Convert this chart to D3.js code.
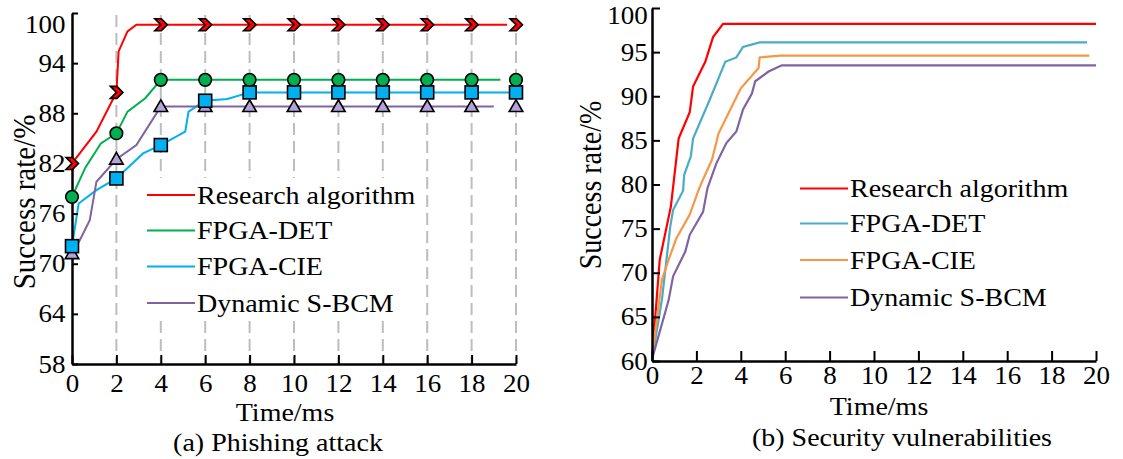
<!DOCTYPE html>
<html><head><meta charset="utf-8">
<script src="https://cdn.jsdelivr.net/npm/d3@7"></script>
<style>
body{margin:0;background:#fff;}
text{font-family:"Liberation Serif","Times New Roman",serif;fill:#000;}
</style></head>
<body><svg id="c" width="1123" height="459"></svg>
<script>
// ---------- data: (a) Phishing attack ----------
const xTicks = [0,2,4,6,8,10,12,14,16,18,20];
const aYTicks = [58,64,70,76,82,88,94,100];
const bYTicks = [60,65,70,75,80,85,90,95,100];
const seriesNames = ["Research algorithm","FPGA-DET","FPGA-CIE","Dynamic S-BCM"];

const aResearch = [[0,82],[1.1,85.8],[2,90.5],[2.1,95.4],[2.5,97.8],[2.9,98.6],[19.6,98.6]];
const aDET = [[0,78],[0.6,81.5],[1.3,84.4],[2,85.6],[2.5,88.2],[3.3,89.8],[4,92],[19.3,92]];
const aCIE = [[0,72.1],[0.3,77.2],[1.1,78.8],[2,80.2],[3.2,83.2],[4,84.2],[5.1,85.8],[5.25,88.2],[6,89.5],[7,89.7],[8,90.5],[20,90.5]];
const aSBCM = [[0,71.2],[0.35,72.8],[0.8,75.2],[1.1,79.8],[2,82.5],[2.9,84.2],[4,88.8],[19,88.8]];
// markers at x = 0,2,...,20
const aResearchMk = [82,90.5,98.6,98.6,98.6,98.6,98.6,98.6,98.6,98.6,98.6];
const aDETMk = [78,85.6,92,92,92,92,92,92,92,92,92];
const aCIEMk = [72.1,80.2,84.2,89.5,90.5,90.5,90.5,90.5,90.5,90.5,90.5];
const aSBCMMk = [71.2,82.5,88.8,88.8,88.8,88.8,88.8,88.8,88.8,88.8,88.8];

// ---------- data: (b) Security vulnerabilities ----------
const bResearch = [[0,60.3],[0.35,71.5],[0.85,77.5],[1.2,85.2],[1.7,88.2],[1.85,91.1],[2.4,93.9],[2.75,96.7],[3.2,98.2],[20,98.2]];
const bDET = [[0,60.2],[0.45,67],[0.82,75.2],[0.95,77.1],[1.4,79.3],[1.45,81.1],[1.75,83.2],[1.85,85.2],[2.6,89.6],[3.3,93.9],[3.8,94.4],[4.1,95.6],[4.85,96.1],[19.6,96.1]];
const bCIE = [[0,60.5],[0.45,69.2],[0.75,71.5],[1.1,73.9],[1.7,76.6],[2.1,79.4],[2.25,80.3],[2.7,82.8],[3,85.8],[3.45,88.1],[4,90.9],[4.8,93.2],[4.85,94.4],[5.8,94.6],[19.7,94.6]];
const bSBCM = [[0,60.2],[0.75,66.9],[0.95,69.6],[1.5,72.4],[1.7,74.3],[2.3,76.9],[2.5,79.6],[2.9,82.4],[3.35,84.7],[3.8,86],[4.1,88.5],[4.5,90.3],[4.65,91.7],[5.25,92.8],[5.85,93.5],[20,93.5]];

const aColors = ["#ff0000","#00b050","#00b0f0","#8064a2"];
const aFills = ["#ff0000","#00b050","#00b0f0","#b4a2dc"];
const bColors = ["#ff0000","#4bacc6","#f79646","#8064a2"];

const SX = 1.12;
const svg = d3.select("#c");

function txt(g, x, y, s, size, anchor, rot){
  g.append("text")
   .attr("transform", `translate(${x},${y}) scale(${SX},1)` + (rot ? ` rotate(${rot})` : ""))
   .attr("text-anchor", anchor || "start")
   .style("font-size", size + "px")
   .text(s);
}

function styleAxis(g){
  g.select(".domain").attr("stroke","#000").attr("stroke-width",2.5);
  g.selectAll(".tick line").attr("stroke","#000").attr("stroke-width",2);
  g.selectAll(".tick text").style("font-size","25px").attr("fill","#000")
    .attr("font-family",'"Liberation Serif", serif');
}

// ================= Panel (a) =================
{
  const x = d3.scaleLinear().domain([0,20]).range([72,516]);
  const y = d3.scaleLinear().domain([58,100]).range([364,13]);
  const g = svg.append("g");

  // dashed gridlines
  g.selectAll("line.grid").data(xTicks.filter(d=>d>0)).enter().append("line")
    .attr("x1",d=>x(d)).attr("x2",d=>x(d)).attr("y1",15).attr("y2",y(58))
    .attr("stroke","#bdbdbd").attr("stroke-width",2).attr("stroke-dasharray","12,6");

  // legend background (covers grid)
  g.append("rect").attr("x",145).attr("y",178).attr("width",262).attr("height",142).attr("fill","#fff");

  const line = d3.line().x(d=>x(d[0])).y(d=>y(d[1]));
  [aResearch,aDET,aCIE,aSBCM].forEach((s,i)=>{
    g.append("path").datum(s).attr("d",line).attr("fill","none")
      .attr("stroke",aColors[i]).attr("stroke-width",2);
  });

  // axes
  const ya = g.append("g").attr("transform",`translate(${x(0)},0)`)
    .call(d3.axisLeft(y).tickValues(aYTicks).tickSizeInner(-6).tickSizeOuter(0).tickPadding(6));
  styleAxis(ya);
  ya.selectAll(".tick text").attr("transform",d=>d===100?`translate(0,11) scale(1.08,1)`:`scale(1.08,1)`);
  const xa = g.append("g").attr("transform",`translate(0,${y(58)})`)
    .call(d3.axisBottom(x).tickValues(xTicks).tickSizeInner(-9).tickSizeOuter(0).tickPadding(10));
  styleAxis(xa);
  xa.selectAll(".tick text").attr("transform",`scale(1.08,1)`);

  // markers
  const mk = [aResearchMk,aDETMk,aCIEMk,aSBCMMk];
  const chevron = "M-6,-6 L0.5,-6 L6.5,0 L0.5,6 L-6,6 L0,0 Z";
  xTicks.forEach((t,j)=>{
    const tri = d3.symbol().type(d3.symbolTriangle).size(80);
    g.append("path").attr("d",tri()).attr("transform",`translate(${x(t)},${y(mk[3][j])+1})`)
      .attr("fill",aFills[3]).attr("stroke","#000").attr("stroke-width",1.6);
    g.append("rect").attr("x",x(t)-6.5).attr("y",y(mk[2][j])-6.5).attr("width",13).attr("height",13)
      .attr("fill",aFills[2]).attr("stroke","#000").attr("stroke-width",1.6);
    g.append("circle").attr("cx",x(t)).attr("cy",y(mk[1][j])).attr("r",6.3)
      .attr("fill",aFills[1]).attr("stroke","#000").attr("stroke-width",1.6);
    g.append("path").attr("d",chevron).attr("transform",`translate(${x(t)},${y(mk[0][j])})`)
      .attr("fill",aFills[0]).attr("stroke","#000").attr("stroke-width",1.6);
  });

  // legend
  const ly = [195,230.5,266.5,303];
  seriesNames.forEach((n,i)=>{
    g.append("line").attr("x1",147).attr("x2",195).attr("y1",ly[i]).attr("y2",ly[i])
      .attr("stroke",aColors[i]).attr("stroke-width",2);
    txt(g,197,ly[i]+8.5,n,25,"start");
  });

  txt(g,285,421,"Time/ms",25,"middle");
  txt(g,278,451,"(a) Phishing attack",25,"middle");
  txt(g,35,202,"Success rate/%",29,"middle",-90);
}

// ================= Panel (b) =================
{
  const x = d3.scaleLinear().domain([0,20]).range([652,1096]);
  const y = d3.scaleLinear().domain([60,100]).range([361,8]);
  const g = svg.append("g");

  const line = d3.line().x(d=>x(d[0])).y(d=>y(d[1]));
  [bResearch,bDET,bCIE,bSBCM].forEach((s,i)=>{
    g.append("path").datum(s).attr("d",line).attr("fill","none")
      .attr("stroke",bColors[i]).attr("stroke-width",2.2);
  });

  const ya = g.append("g").attr("transform",`translate(${x(0)},0)`)
    .call(d3.axisLeft(y).tickValues(bYTicks).tickSizeInner(-8).tickSizeOuter(0).tickPadding(4));
  styleAxis(ya);
  ya.selectAll(".tick text").attr("transform",d=>d===100?`translate(0,7) scale(1.08,1)`:`scale(1.08,1)`);
  const xa = g.append("g").attr("transform",`translate(0,${y(60)})`)
    .call(d3.axisBottom(x).tickValues(xTicks).tickSizeInner(-10).tickSizeOuter(0).tickPadding(5));
  styleAxis(xa);
  xa.selectAll(".tick text").attr("transform",`scale(1.08,1)`);

  const ly = [188.5,223.5,260,297.5];
  seriesNames.forEach((n,i)=>{
    g.append("line").attr("x1",800).attr("x2",848).attr("y1",ly[i]).attr("y2",ly[i])
      .attr("stroke",bColors[i]).attr("stroke-width",2.2);
    txt(g,850,ly[i]+8.5,n,25,"start");
  });

  txt(g,879,415,"Time/ms",25,"middle");
  txt(g,902,446,"(b) Security vulnerabilities",25,"middle");
  txt(g,601,185,"Success rate/%",28,"middle",-90);
}
</script></body></html>
